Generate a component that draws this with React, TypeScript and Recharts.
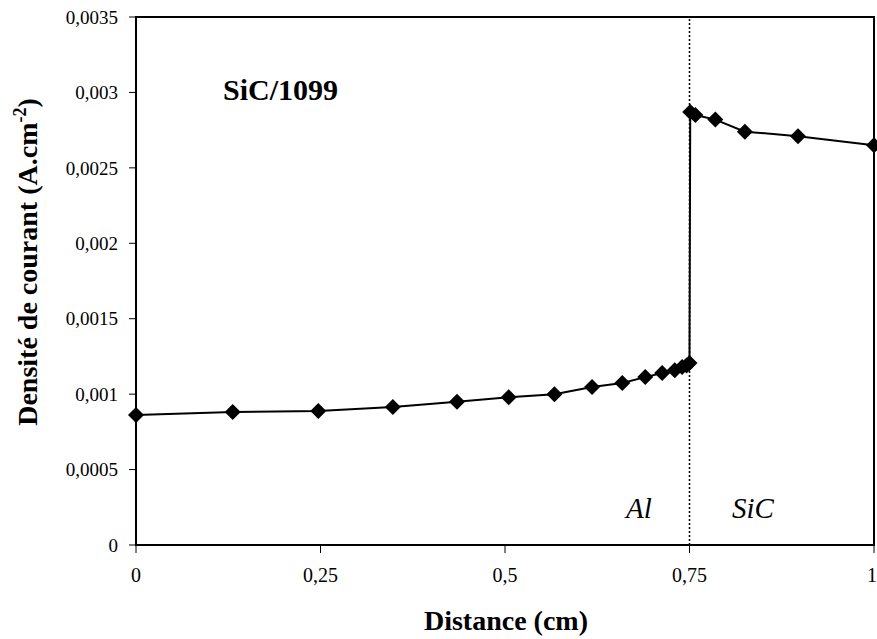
import React from 'react';
import { LineChart, Line, XAxis, YAxis, ReferenceLine, ReferenceArea } from 'recharts';

const distance = [0, 0.131, 0.247, 0.348, 0.435, 0.505, 0.567, 0.618, 0.659, 0.69, 0.713, 0.73, 0.74, 0.746, 0.75, 0.751, 0.758, 0.785, 0.825, 0.897, 1];
const current = [
  0.000862, 0.000881, 0.000888, 0.000915, 0.00095, 0.00098, 0.001, 0.001047, 0.001074, 0.001113, 0.00114,
  0.001158, 0.00118, 0.00119, 0.001206, 0.00287, 0.00285, 0.00282, 0.00274, 0.00271, 0.00265,
];
const xTicks = [0, 0.25, 0.5, 0.75, 1];
const yTicks = [0, 0.0005, 0.001, 0.0015, 0.002, 0.0025, 0.003, 0.0035];

const data = distance.map((d, i) => ({ d, j: current[i] }));

const FONT = 'Liberation Serif';
const fmt = (v: number) => String(v).replace('.', ',');

const Diamond = (props: any) => {
  const { cx, cy } = props;
  if (cx == null || cy == null) return null;
  const r = 8;
  return <polygon points={`${cx},${cy - r} ${cx + r},${cy} ${cx},${cy + r} ${cx - r},${cy}`} fill="#000" />;
};

export default function App() {
  return (
    <div style={{ position: 'absolute', left: 0, top: 0, background: '#fff' }}>
      <LineChart width={877} height={639} data={data} margin={{ top: 17, right: 3, left: 0, bottom: 0 }}>
        <XAxis
          dataKey="d"
          type="number"
          domain={[0, 1]}
          ticks={xTicks}
          tickFormatter={fmt}
          height={94}
          tickSize={8}
          tickMargin={15}
          axisLine={{ stroke: '#000', strokeWidth: 2 }}
          tickLine={{ stroke: '#000' }}
          tick={{ fill: '#000', fontSize: 20, fontFamily: FONT }}
        />
        <YAxis
          type="number"
          domain={[0, 0.0035]}
          ticks={yTicks}
          tickFormatter={fmt}
          width={136}
          tickSize={7}
          tickMargin={11}
          axisLine={{ stroke: '#000', strokeWidth: 2 }}
          tickLine={{ stroke: '#000' }}
          tick={{ fill: '#000', fontSize: 19, fontFamily: FONT }}
        />
        <ReferenceArea x1={0} x2={1} y1={0} y2={0.0035} fill="none" stroke="#000" strokeWidth={2} />
        <ReferenceLine x={0.75} stroke="#000" strokeWidth={1.5} strokeDasharray="2 2" />
        <Line
          dataKey="j"
          stroke="#000"
          strokeWidth={2}
          dot={<Diamond />}
          activeDot={false}
          isAnimationActive={false}
        />
        <text x={506} y={630} textAnchor="middle" fontFamily={FONT} fontWeight="bold" fontSize={28} fill="#000">Distance (cm)</text>
        <text x={37} y={262} transform="rotate(-90 37 262)" textAnchor="middle" fontFamily={FONT} fontWeight="bold" fontSize={28} fill="#000">
          Densité de courant (A.cm<tspan dy={-11} fontSize={18}>-2</tspan><tspan dy={11}>)</tspan>
        </text>
        <text x={223} y={100} fontFamily={FONT} fontWeight="bold" fontSize={30} fill="#000">SiC/1099</text>
        <text x={626} y={518} fontFamily={FONT} fontStyle="italic" fontSize={29} fill="#000">Al</text>
        <text x={732} y={518} fontFamily={FONT} fontStyle="italic" fontSize={29} fill="#000">SiC</text>
      </LineChart>
    </div>
  );
}
